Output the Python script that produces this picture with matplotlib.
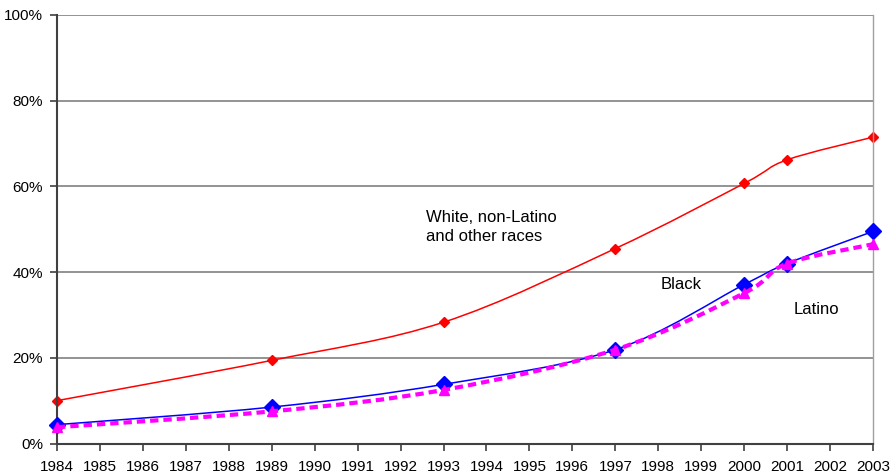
import matplotlib

matplotlib.use("Agg")
import matplotlib.pyplot as plt
import numpy as np
from matplotlib.path import Path
from matplotlib.patches import PathPatch

plt.rcParams["font.family"] = ["Liberation Sans", "DejaVu Sans"]

years = [1984, 1989, 1993, 1997, 2000, 2001, 2003]
white = [10.0, 19.4, 28.3, 45.5, 60.7, 66.2, 71.5]
black = [4.4, 8.5, 13.8, 21.9, 37.1, 42.0, 49.5]
latino = [3.8, 7.5, 12.5, 21.9, 35.1, 42.0, 46.5]
year_ticks = list(range(1984, 2004))
pct_ticks = [0, 20, 40, 60, 80, 100]


def smooth_path(xs, ys, tension=1 / 6):
    # spreadsheet-style smoothed line: cubic Bezier through each point
    pts = np.column_stack([xs, ys]).astype(float)
    verts = [pts[0]]
    codes = [Path.MOVETO]
    n = len(pts)
    for i in range(n - 1):
        p0 = pts[max(i - 1, 0)]
        p1 = pts[i]
        p2 = pts[i + 1]
        p3 = pts[min(i + 2, n - 1)]
        c1 = p1 + (p2 - p0) * tension
        c2 = p2 - (p3 - p1) * tension
        verts += [c1, c2, p2]
        codes += [Path.CURVE4] * 3
    return Path(verts, codes)


fig = plt.figure(figsize=(8.93, 4.76), dpi=100)
ax = fig.add_axes([57 / 893, 32.5 / 476, 816 / 893, 428.5 / 476])

ax.set_xlim(1984, 2003)
ax.set_ylim(0, 100)

for y in pct_ticks[1:]:
    ax.axhline(y, color="#808080", linewidth=1.2, zorder=1)

series = [
    (white, "#ff0000", "-", 1.1, "D", 5, 2),
    (black, "#0000ff", "-", 1.1, "D", 8, 3),
    (latino, "#ff00ff", (0, (2, 1.2)), 3.0, "^", 7, 4),
]
for ys, color, ls, lw, marker, ms, z in series:
    patch = PathPatch(smooth_path(years, ys), facecolor="none", edgecolor=color,
                      linewidth=lw, linestyle=ls, zorder=z, clip_on=False)
    ax.add_patch(patch)
    ax.plot(years, ys, linestyle="none", marker=marker, markersize=ms,
            color=color, zorder=z + 0.1, clip_on=False)

ax.text(1992.6, 50.6, "White, non-Latino\nand other races", fontsize=12,
        ha="left", va="center", linespacing=1.33)
ax.text(1998.05, 37.0, "Black", fontsize=12, ha="left", va="center")
ax.text(2001.15, 31.2, "Latino", fontsize=12, ha="left", va="center")

ax.set_xticks(year_ticks)
ax.set_xticklabels([str(y) for y in year_ticks], fontsize=11)
ax.set_yticks(pct_ticks)
ax.set_yticklabels([f"{p}%" for p in pct_ticks], fontsize=11)
ax.tick_params(axis="both", direction="out", length=5, width=1.2, color="#404040")
ax.tick_params(axis="x", pad=7)
ax.tick_params(axis="y", pad=5)

ax.spines["top"].set_visible(False)
ax.spines["left"].set_color("#404040")
ax.spines["left"].set_linewidth(1.5)
ax.spines["bottom"].set_color("#404040")
ax.spines["bottom"].set_linewidth(1.5)
ax.spines["right"].set_color("#a0a0a0")
ax.spines["right"].set_linewidth(1.0)

fig.savefig("out.png", dpi=100, facecolor="white")
